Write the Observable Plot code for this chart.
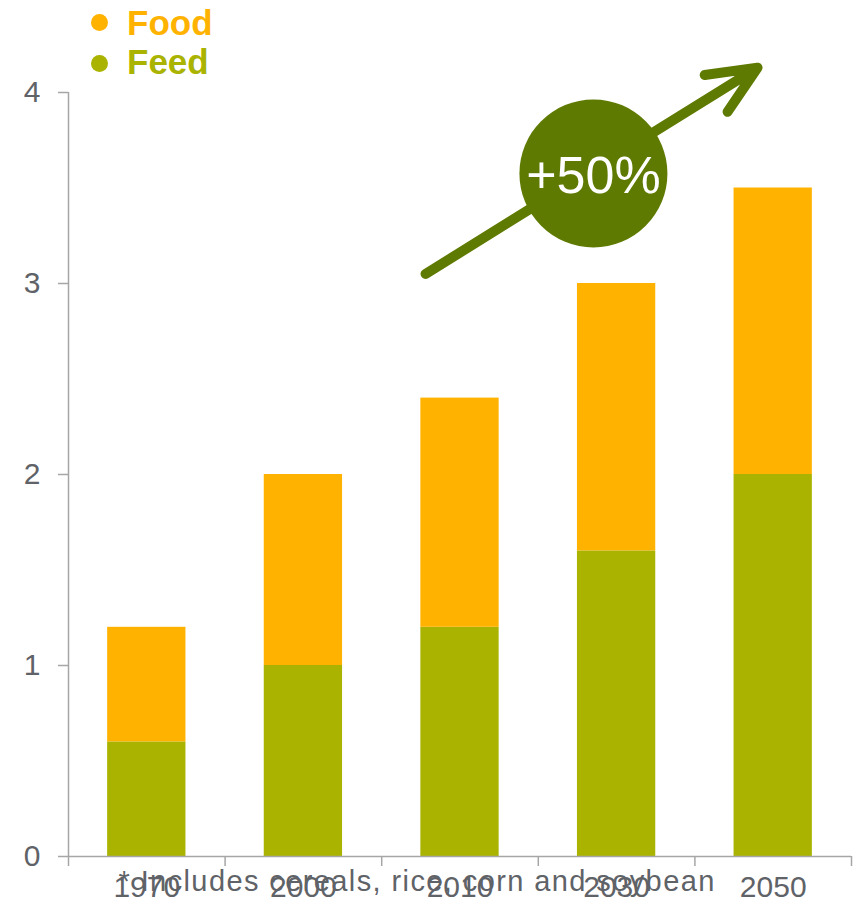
<!DOCTYPE html>
<html><head><meta charset="utf-8">
<script src="https://cdn.jsdelivr.net/npm/d3@7"></script>
<script src="https://cdn.jsdelivr.net/npm/@observablehq/plot@0.6"></script>
<style>
body{margin:0;background:#fff;font-family:Arial,"Liberation Sans",sans-serif;}
#wrap{position:relative;width:856px;height:908px;overflow:hidden;}
#wrap svg{position:absolute;left:0;top:0;}
.lg{position:absolute;font-size:35px;font-weight:bold;line-height:39px;white-space:nowrap;}
.dot{position:absolute;width:17px;height:17px;border-radius:50%;}
</style></head><body><div id="wrap"></div>
<script>
// ---- data ----
const years = ["1970", "2000", "2010", "2030", "2050"];
const feed = [0.6, 1.0, 1.2, 1.6, 2.0];
const food = [0.6, 1.0, 1.2, 1.4, 1.5];
const seriesNames = ["Food", "Feed"];
const seriesColors = ["#FFB300", "#AAB300"];
const yTicks = [0, 1, 2, 3, 4];
const footnote = "* Includes cereals, rice, corn and soybean";
const growthLabel = "+50%";
// annotation (in data units: x = category index, y = value)
const arrowAnn = [{x1: 1.78, y1: 3.05, x2: 3.90, y2: 4.13}];
const badgeAnn = [{x: 2.852, y: 3.576, label: growthLabel}];

// ---- build rows ----
const rows = years.flatMap((yr, i) => [
  {i, year: yr, series: "Feed", y1: 0, y2: feed[i]},
  {i, year: yr, series: "Food", y1: feed[i], y2: feed[i] + food[i]}
]);
const idx = years.map((_, i) => i);
const bounds = [...idx.map(i => i - 0.5), years.length - 0.5];

const axisGray = "#a6a6a6";
const textGray = "#5f6368";
const dark = "#5e7a00";

const chart = Plot.plot({
  width: 856,
  height: 908,
  marginLeft: 68,
  marginRight: 5,
  marginTop: 92,
  marginBottom: 52,
  style: {fontFamily: "Arial, 'Liberation Sans', sans-serif", background: "transparent", overflow: "visible"},
  x: {type: "linear", domain: [-0.5, years.length - 0.5], axis: null},
  y: {domain: [0, 4], axis: null},
  color: {domain: seriesNames, range: seriesColors},
  marks: [
    Plot.rect(rows, {x1: d => d.i - 0.25, x2: d => d.i + 0.25, y1: "y1", y2: "y2", fill: "series"}),
    Plot.ruleX([-0.5], {y1: 0, y2: 4, stroke: axisGray, strokeWidth: 1.5}),
    Plot.ruleY([0], {x1: -0.5, x2: years.length - 0.5, stroke: axisGray, strokeWidth: 1.5}),
    Plot.axisY({ticks: yTicks, tickSize: 10, tickPadding: 18, tickFormat: d => String(d), fontSize: 30, stroke: axisGray, strokeWidth: 1.5, fill: textGray, label: null}),
    Plot.axisX({ticks: bounds, tickSize: 10, tickFormat: () => "", stroke: axisGray, strokeWidth: 1.5, label: null}),
    Plot.axisX({ticks: idx, tickSize: 0, tickPadding: 19, tickFormat: i => years[i], fontSize: 30, fill: textGray, label: null}),
    Plot.text([footnote], {frameAnchor: "bottom-left", text: d => d, textAnchor: "start", lineAnchor: "bottom", dx: 50, dy: 34, fontSize: 29, fill: textGray}),
    Plot.arrow(arrowAnn, {x1: "x1", y1: "y1", x2: "x2", y2: "y2", stroke: dark, strokeWidth: 10, headAngle: 48, headLength: 8, strokeLinecap: "round"}),
    Plot.dot(badgeAnn, {x: "x", y: "y", r: 74, fill: dark, stroke: null}),
    Plot.text(badgeAnn, {x: "x", y: "y", text: "label", fill: "white", fontSize: 52, dy: 3})
  ]
});

// widen footnote tracking to match the reference
d3.select(chart).selectAll("text").filter(function() { return this.textContent === footnote; })
  .style("letter-spacing", "1.4px");

const wrap = document.getElementById("wrap");
wrap.appendChild(chart);
// legend
seriesNames.forEach((name, k) => {
  const dot = document.createElement("div");
  dot.className = "dot";
  dot.style.background = seriesColors[k];
  dot.style.left = (99 - 8.5) + "px";
  dot.style.top = (22 + 41 * k - 8.5) + "px";
  wrap.appendChild(dot);
  const t = document.createElement("div");
  t.className = "lg";
  t.textContent = name;
  t.style.color = seriesColors[k];
  t.style.left = "127px";
  t.style.top = (3 + 39 * k) + "px";
  wrap.appendChild(t);
});
</script></body></html>
